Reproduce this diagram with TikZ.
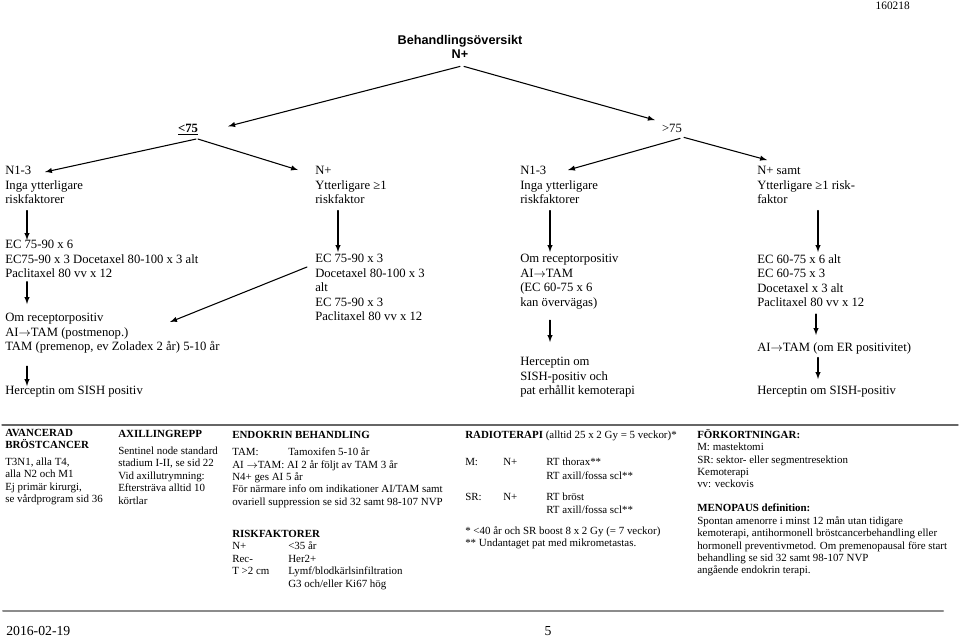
\documentclass[tikz,border=0pt]{standalone}
\usepackage{fontspec}
\setmainfont{Liberation Serif}
\newfontfamily\headfont{Liberation Sans}

\begin{document}
\begin{tikzpicture}
	[x=0.75pt,y=-0.75pt,line cap=round,
	%Styles
	tree text/.style={anchor=north west,inner sep=0pt,align=left,font=\fontsize{9.5}{10.9}\selectfont},
	note text/.style={anchor=north west,inner sep=0pt,align=left,font=\fontsize{8.2}{9.3}\selectfont},
	age text/.style={anchor=base,inner sep=0pt,font=\fontsize{9.5}{10.9}\selectfont},
	step arrow/.style={-latex,line width=0.8pt},
	rule line/.style={draw=black!60,line width=1pt}
	]
	\useasboundingbox (0,0) rectangle (960,637);

	%Header
	\node[anchor=base east,inner sep=0pt,font=\fontsize{8.5}{10}\selectfont] (datecode) at (910,9) {160218};
	\node[anchor=north,inner sep=0pt,align=center,font=\headfont\bfseries\fontsize{9.5}{10.5}\selectfont] (title) at (460,35.2) {Behandlingsöversikt\\N+};

	%The tree
	\node[age text,font=\bfseries\fontsize{9.5}{10.9}\selectfont] (le75) at (188,132) {\underline{<75}};
	\node[age text] (gt75) at (672,132) {>75};

	\node[tree text] (a1) at (5,166) {N1-3\\Inga ytterligare\\riskfaktorer};
	\node[tree text] (a2) at (5,240) {EC 75-90 x 6\\EC75-90 x 3 Docetaxel 80-100 x 3 alt\\Paclitaxel 80 vv x 12};
	\node[tree text] (a3) at (5,313) {Om receptorpositiv\\AI$\rightarrow$TAM (postmenop.)\\TAM (premenop, ev Zoladex 2 år) 5-10 år};
	\node[tree text] (a4) at (5,386) {Herceptin om SISH positiv};

	\node[tree text] (b1) at (315,166) {N+\\Ytterligare ≥1\\riskfaktor};
	\node[tree text] (b2) at (315,254) {EC 75-90 x 3\\Docetaxel 80-100 x 3\\alt\\EC 75-90 x 3\\Paclitaxel 80 vv x 12};

	\node[tree text] (c1) at (520,166) {N1-3\\Inga ytterligare\\riskfaktorer};
	\node[tree text] (c2) at (520,254) {Om receptorpositiv\\AI$\rightarrow$TAM\\(EC 60-75 x 6\\kan övervägas)};
	\node[tree text] (c3) at (520,357) {Herceptin om\\SISH-positiv och\\pat erhållit kemoterapi};

	\node[tree text] (d1) at (757,166) {N+ samt\\Ytterligare ≥1 risk-\\faktor};
	\node[tree text] (d2) at (757,254) {EC 60-75 x 6 alt\\EC 60-75 x 3\\Docetaxel x 3 alt\\Paclitaxel 80 vv x 12};
	\node[tree text] (d3) at (757,342) {AI$\rightarrow$TAM (om ER positivitet)};
	\node[tree text] (d4) at (757,386) {Herceptin om SISH-positiv};

	\draw[step arrow] ([shift={(0,7.5)}]title.south) -- ([shift={(30,-3)}]le75.east);
	\draw[step arrow] ([shift={(4,7.5)}]title.south) -- ([shift={(-7,-3.4)}]gt75.north west);
	\draw[step arrow] ([shift={(8,4)}]le75.south) -- ([shift={(40,6)}]a1.north west);
	\draw[step arrow] ([shift={(10,4)}]le75.south) -- ([shift={(-17,4)}]b1.north west);
	\draw[step arrow] ([shift={(8,6)}]gt75.south) -- ([shift={(48,4)}]c1.north west);
	\draw[step arrow] ([shift={(12,5)}]gt75.south) -- ([shift={(10,-6)}]d1.north west);

	\draw[step arrow] ([shift={(22,6.5)}]a1.south west) -- ([shift={(22,0)}]a2.north west);
	\draw[step arrow] ([shift={(22,3.5)}]a2.south west) -- ([shift={(22,-9)}]a3.north west);
	\draw[step arrow] ([shift={(22,12.5)}]a3.south west) -- ([shift={(22,0)}]a4.north west);
	\draw[step arrow] ([shift={(23,6.5)}]b1.south west) -- ([shift={(23,-2)}]b2.north west);
	\draw[step arrow] ([shift={(-8,13)}]b2.north west) -- ([shift={(165,9)}]a3.north west);
	\draw[step arrow] ([shift={(30,6.5)}]c1.south west) -- ([shift={(30,-2)}]c2.north west);
	\draw[step arrow] ([shift={(30,11)}]c2.south west) -- ([shift={(30,-15)}]c3.north west);
	\draw[step arrow] ([shift={(61,6.5)}]d1.south west) -- ([shift={(61,-2)}]d2.north west);
	\draw[step arrow] ([shift={(59,7)}]d2.south west) -- ([shift={(59,-7)}]d3.north west);
	\draw[step arrow] ([shift={(61,3.5)}]d3.south west) -- ([shift={(61,-7)}]d4.north west);

	%Notes below the tree
	\draw[rule line] (2,425) -- (958,425);

	\node[note text] (advanced) at (5,428.5) {\textbf{AVANCERAD}\\\textbf{BRÖSTCANCER}\\[3.5pt]T3N1, alla T4,\\alla N2 och M1\\Ej primär kirurgi,\\se vårdprogram sid 36};
	\node[note text] (axilla) at (118,430) {\textbf{AXILLINGREPP}\\[3.5pt]Sentinel node standard\\stadium I-II, se sid 22\\Vid axillutrymning:\\Eftersträva alltid 10\\körtlar};
	\node[note text] (endocrine) at (232,430.5) {\textbf{ENDOKRIN BEHANDLING}\\[4pt]\makebox[42pt][l]{TAM:}Tamoxifen 5-10 år\\AI $\rightarrow$TAM: AI 2 år följt av TAM 3 år\\N4+ ges AI 5 år\\För närmare info om indikationer AI/TAM samt\\ovariell suppression se sid 32 samt 98-107 NVP};
	\node[note text] (riskfactors) at (232,530) {\textbf{RISKFAKTORER}\\\makebox[42pt][l]{N+}<35 år\\\makebox[42pt][l]{Rec-}Her2+\\\makebox[42pt][l]{T >2 cm}Lymf/blodkärlsinfiltration\\\hspace*{42pt}G3 och/eller Ki67 hög};
	\node[note text] (radiation) at (465,431) {\textbf{RADIOTERAPI} (alltid 25 x 2 Gy = 5 veckor)*\\[11pt]\makebox[28.5pt][l]{M:}\makebox[32.25pt][l]{N+}RT thorax**\\[1pt]\hspace*{60.75pt}RT axill/fossa scl**\\[6.5pt]\makebox[28.5pt][l]{SR:}\makebox[32.25pt][l]{N+}RT bröst\\\hspace*{60.75pt}RT axill/fossa scl**\\[6.5pt]* <40 år och SR boost 8 x 2 Gy (= 7 veckor)\\** Undantaget pat med mikrometastas.};
	\node[note text] (abbrev) at (697,429) {\textbf{FÖRKORTNINGAR:}\\M: mastektomi\\SR: sektor- eller segmentresektion\\Kemoterapi\\vv: veckovis};
	\node[note text] (menopause) at (697,504) {\textbf{MENOPAUS definition:}\\Spontan amenorre i minst 12 mån utan tidigare\\kemoterapi, antihormonell bröstcancerbehandling eller\\hormonell preventivmetod. Om premenopausal före start\\behandling se sid 32 samt 98-107 NVP\\angående endokrin terapi.};

	%Footer
	\draw[rule line,draw=black!45,line width=1.5pt] (3,611) -- (943,611);
	\node[anchor=base west,inner sep=0pt,font=\fontsize{10.3}{11}\selectfont] (date) at (6,635) {2016-02-19};
	\node[anchor=base,inner sep=0pt,font=\fontsize{10.3}{11}\selectfont] (page) at (548,635) {5};
\end{tikzpicture}
\end{document}
